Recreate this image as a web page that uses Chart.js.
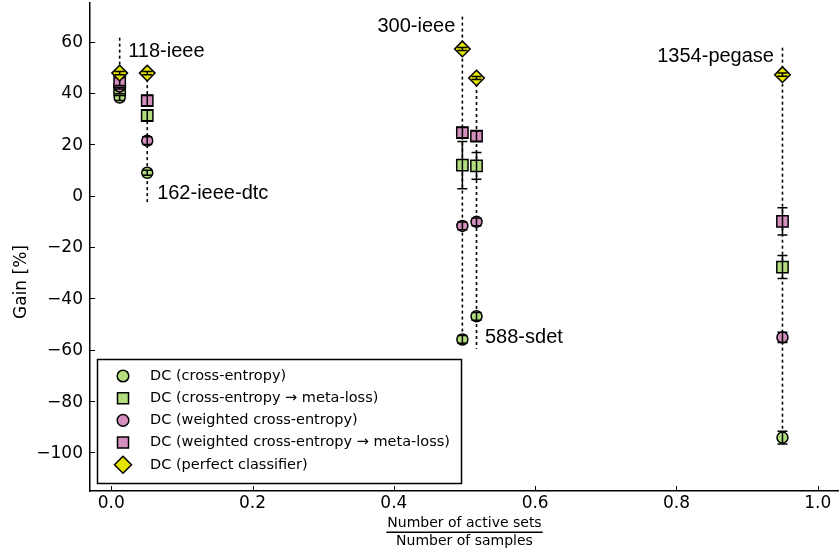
<!DOCTYPE html>
<html>
<head>
<meta charset="utf-8">
<script src="https://cdn.jsdelivr.net/npm/chart.js@4.4.1/dist/chart.umd.min.js"></script>
<style>
  html, body { margin: 0; padding: 0; background: #fff; }
  #wrap { width: 839px; height: 552px; position: relative; }
</style>
</head>
<body>
<div id="wrap"><canvas id="chart"></canvas></div>
<script>
// grids and their ratio active sets / samples
const gridNames   = ['118-ieee', '162-ieee-dtc', '300-ieee', '588-sdet', '1354-pegase'];
const activeRatio = [0.012, 0.051, 0.497, 0.517, 0.950];

// gain [%] per method (one value per grid) and error bar half widths
const ceGain       = [38.2, 8.9, -56.0, -47.0, -94.2];
const ceErr        = [1.2, 1.0, 1.5, 1.5, 2.5];
const ceMetaGain   = [41.2, 31.2, 11.9, 11.6, -27.8];
const ceMetaErr    = [1.5, 2.0, 9.2, 5.2, 4.5];
const wceGain      = [42.5, 21.4, -11.8, -10.2, -55.2];
const wceErr       = [1.0, 1.5, 1.5, 1.5, 2.0];
const wceMetaGain  = [44.4, 37.0, 24.5, 23.2, -10.0];
const wceMetaErr   = [1.5, 2.0, 2.0, 2.0, 5.3];
const perfectGain  = [47.7, 47.7, 57.1, 45.8, 47.1];
const perfectErr   = [0.6, 0.6, 0.6, 0.6, 0.6];

// dotted guide line per grid
const guideTop    = [61.5, 47.7, 69.7, 45.8, 57.6];
const guideBottom = [38.2, -2.8, -56.0, -59.6, -94.2];

// grid name annotations
const labelX     = [0.024, 0.065, 0.487, 0.529, 0.938];
const labelY     = [56.0, 1.0, 65.7, -55.4, 54.0];
const labelAlign = ['left', 'left', 'right', 'left', 'right'];

const xTicks = [0.0, 0.2, 0.4, 0.6, 0.8, 1.0];
const yTicks = [-100, -80, -60, -40, -20, 0, 20, 40, 60];

const GREEN = '#b3dc7d';
const PINK = '#d48fbe';
const YELLOW = '#e4e400';

window.onload = function () {
    drawChart();
}

function points(vals) {
    return activeRatio.map((x, i) => ({x: x, y: vals[i]}));
}

function series(label, vals, errs, color, style, radius, order) {
    return {
        label: label,
        data: points(vals),
        errors: errs,
        backgroundColor: color,
        borderColor: '#000',
        borderWidth: 1.5,
        pointStyle: style,
        pointRadius: radius,
        pointHoverRadius: radius,
        showLine: false,
        order: order
    };
}

function drawMarker(ctx, style, x, y, r, color) {
    ctx.save();
    ctx.fillStyle = color;
    ctx.strokeStyle = '#000';
    ctx.lineWidth = 1.5;
    ctx.beginPath();
    if (style === 'circle') {
        ctx.arc(x, y, r, 0, Math.PI * 2);
    } else if (style === 'rect') {
        const s = r * Math.SQRT1_2;
        ctx.rect(x - s, y - s, 2 * s, 2 * s);
    } else {
        ctx.moveTo(x, y - r);
        ctx.lineTo(x + r, y);
        ctx.lineTo(x, y + r);
        ctx.lineTo(x - r, y);
        ctx.closePath();
    }
    ctx.fill();
    ctx.stroke();
    ctx.restore();
}

// error bars, drawn right after the markers of their own series
const errorBars = {
    id: 'errorBars',
    afterDatasetDraw(chart, args) {
        const ds = chart.data.datasets[args.index];
        if (!ds.errors) return;
        const ctx = chart.ctx;
        const xs = chart.scales.x, ys = chart.scales.y;
        ctx.save();
        ctx.strokeStyle = '#000';
        ctx.lineWidth = 1.5;
        ds.data.forEach((p, i) => {
            const px = xs.getPixelForValue(p.x);
            const top = ys.getPixelForValue(p.y + ds.errors[i]);
            const bot = ys.getPixelForValue(p.y - ds.errors[i]);
            ctx.beginPath();
            ctx.moveTo(px, top); ctx.lineTo(px, bot);
            ctx.moveTo(px - 5, top); ctx.lineTo(px + 5, top);
            ctx.moveTo(px - 5, bot); ctx.lineTo(px + 5, bot);
            ctx.stroke();
        });
        ctx.restore();
    }
};

// ticks + tick labels, axis titles, grid names and the legend box
const decorations = {
    id: 'decorations',
    afterDraw(chart) {
        const ctx = chart.ctx;
        const xs = chart.scales.x, ys = chart.scales.y;
        const area = chart.chartArea;

        ctx.save();
        ctx.strokeStyle = '#000';
        ctx.fillStyle = '#000';
        ctx.lineWidth = 1;
        ctx.beginPath();
        yTicks.forEach(v => {
            const py = Math.round(ys.getPixelForValue(v)) + 0.5;
            ctx.moveTo(area.left, py); ctx.lineTo(area.left + 5, py);
        });
        xTicks.forEach(v => {
            const px = Math.round(xs.getPixelForValue(v)) + 0.5;
            ctx.moveTo(px, area.bottom); ctx.lineTo(px, area.bottom - 5);
        });
        ctx.stroke();

        // tick labels
        ctx.font = '17px "DejaVu Sans"';
        ctx.textBaseline = 'middle';
        ctx.textAlign = 'right';
        yTicks.forEach(v => {
            ctx.fillText(String(v).replace('-', '\u2212'), area.left - 7, ys.getPixelForValue(v) + 1);
        });
        ctx.textAlign = 'center';
        xTicks.forEach(v => {
            ctx.fillText(v.toFixed(1), xs.getPixelForValue(v), area.bottom + 13);
        });

        // y title
        ctx.translate(22, 282);
        ctx.rotate(-Math.PI / 2);
        ctx.fillText('Gain [%]', 0, 0);
        ctx.setTransform(1, 0, 0, 1, 0, 0);

        // x title as a fraction
        const cx = (area.left + area.right) / 2;
        ctx.font = '14px "DejaVu Sans"';
        const num = 'Number of active sets';
        const den = 'Number of samples';
        ctx.fillText(num, cx, 523);
        ctx.fillText(den, cx, 541);
        const w = ctx.measureText(num).width + 2;
        ctx.lineWidth = 1.6;
        ctx.beginPath();
        ctx.moveTo(cx - w / 2, 532.3); ctx.lineTo(cx + w / 2, 532.3);
        ctx.stroke();

        // grid names
        ctx.font = '20px "Liberation Sans", Arial, sans-serif';
        gridNames.forEach((name, i) => {
            ctx.textAlign = labelAlign[i];
            ctx.fillText(name, xs.getPixelForValue(labelX[i]), ys.getPixelForValue(labelY[i]));
        });

        // legend
        const lx = 97.5, ly = 359.5, lw = 364, lh = 124;
        ctx.fillStyle = '#fff';
        ctx.fillRect(lx, ly, lw, lh);
        ctx.lineWidth = 1.5;
        ctx.strokeRect(lx, ly, lw, lh);
        const sets = chart.data.datasets.filter(d => d.errors);
        ctx.font = '14.5px "DejaVu Sans"';
        ctx.textAlign = 'left';
        sets.forEach((d, i) => {
            const ry = 376 + i * 22.2;
            const r = d.pointStyle === 'circle' ? 5.8 : (d.pointStyle === 'rect' ? 7.8 : 8.5);
            drawMarker(ctx, d.pointStyle, 123, ry, r, d.backgroundColor);
            ctx.fillStyle = '#000';
            ctx.fillText(d.label, 150, ry);
        });
        ctx.restore();
    }
};

function drawChart() {
    const guides = gridNames.map((name, i) => ({
        label: 'guide ' + name,
        data: [{x: activeRatio[i], y: guideTop[i]}, {x: activeRatio[i], y: guideBottom[i]}],
        showLine: true,
        borderColor: '#000',
        borderWidth: 1.6,
        borderDash: [3, 3],
        pointRadius: 0,
        order: 10
    }));

    const datasets = [
        series('DC (cross-entropy)', ceGain, ceErr, GREEN, 'circle', 5.5, 5),
        series('DC (cross-entropy \u2192 meta-loss)', ceMetaGain, ceMetaErr, GREEN, 'rect', 8, 4),
        series('DC (weighted cross-entropy)', wceGain, wceErr, PINK, 'circle', 5.5, 3),
        series('DC (weighted cross-entropy \u2192 meta-loss)', wceMetaGain, wceMetaErr, PINK, 'rect', 8, 2),
        series('DC (perfect classifier)', perfectGain, perfectErr, YELLOW, 'rectRot', 7.8, 1)
    ].concat(guides);

    const ctx = document.getElementById('chart').getContext('2d');
    new Chart(ctx, {
        type: 'scatter',
        data: {datasets: datasets},
        options: {
            responsive: true,
            maintainAspectRatio: false,
            animation: false,
            layout: {autoPadding: false, padding: {top: 3, right: 0, left: 0, bottom: 0}},
            plugins: {
                legend: {display: false},
                tooltip: {enabled: false}
            },
            scales: {
                x: {
                    type: 'linear',
                    min: -0.03,
                    max: 1.03,
                    afterFit: s => { s.height = 61; },
                    afterBuildTicks: s => { s.ticks = xTicks.map(v => ({value: v})); },
                    grid: {display: false, drawTicks: false},
                    border: {display: true, color: '#000', width: 1.5},
                    ticks: {display: false}
                },
                y: {
                    type: 'linear',
                    min: -115,
                    max: 75,
                    afterFit: s => { s.width = 90; },
                    afterBuildTicks: s => { s.ticks = yTicks.map(v => ({value: v})); },
                    grid: {display: false, drawTicks: false},
                    border: {display: true, color: '#000', width: 1.5},
                    ticks: {display: false}
                }
            }
        },
        plugins: [errorBars, decorations]
    });
}
</script>
</body>
</html>
